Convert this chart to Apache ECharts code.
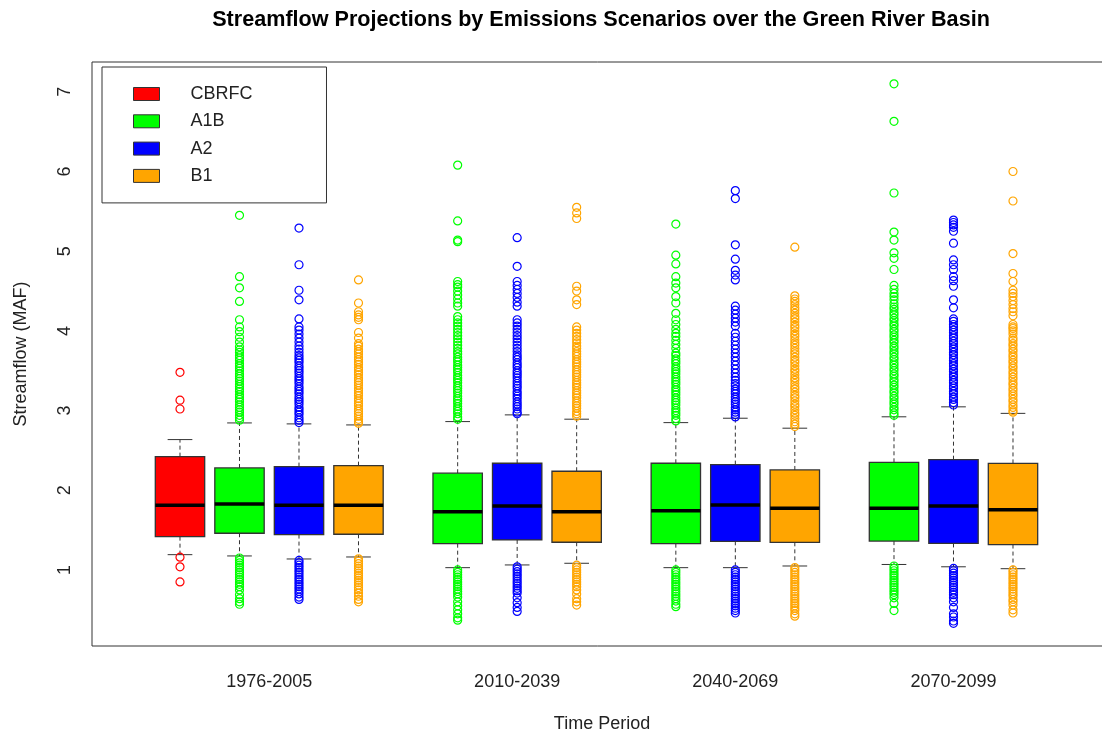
<!DOCTYPE html>
<html>
<head>
<meta charset="utf-8">
<script src="https://cdn.jsdelivr.net/npm/echarts@6/dist/echarts.min.js"></script>
<style>
html,body{margin:0;padding:0;background:#fff;}
#main{width:1102px;height:734px;}
</style>
</head>
<body>
<div id="main"></div>
<script>
// ---------------- DATA ----------------
const periods = ['1976-2005', '2010-2039', '2040-2069', '2070-2099'];
const scenarios = ['CBRFC', 'A1B', 'A2', 'B1'];
const yTicks = [1, 2, 3, 4, 5, 6, 7];

// box stats per period: [lower whisker, Q1, median, Q3, upper whisker] (null = not present)
const statsCBRFC = [[1.192, 1.418, 1.812, 2.422, 2.636], null, null, null];
const statsA1B = [
  [1.176, 1.461, 1.828, 2.280, 2.845],
  [1.029, 1.330, 1.732, 2.214, 2.862],
  [1.029, 1.330, 1.744, 2.339, 2.849],
  [1.069, 1.362, 1.774, 2.351, 2.922]
];
const statsA2 = [
  [1.138, 1.444, 1.812, 2.297, 2.833],
  [1.063, 1.377, 1.803, 2.339, 2.946],
  [1.029, 1.360, 1.816, 2.322, 2.904],
  [1.040, 1.333, 1.803, 2.384, 3.047]
];
const statsB1 = [
  [1.163, 1.448, 1.812, 2.309, 2.820],
  [1.084, 1.348, 1.732, 2.239, 2.892],
  [1.050, 1.347, 1.774, 2.255, 2.779],
  [1.016, 1.319, 1.757, 2.337, 2.965]
];

// outliers per period
const outCBRFC = [[3.48, 3.13, 3.02, 1.16, 1.04, 0.85], [], [], []];
const outA1B = [
  [5.45, 4.68, 4.54, 4.37, 4.14, 4.05, 3.99, 3.92, 3.86, 3.80,
   3.76, 3.73, 3.69, 3.66, 3.63, 3.59, 3.56, 3.53, 3.50, 3.46, 3.43, 3.40, 3.37, 3.33, 3.30, 3.27, 3.24, 3.20, 3.17, 3.14, 3.11, 3.07, 3.04, 3.01, 2.98, 2.94, 2.91, 2.88,
   1.15, 1.12, 1.09, 1.06, 1.03, 1.00, 0.97, 0.94, 0.91, 0.88, 0.85, 0.82, 0.79, 0.75, 0.69, 0.64, 0.60, 0.57],
  [6.08, 5.38, 5.14, 5.12, 4.62, 4.58, 4.55, 4.50, 4.45, 4.40, 4.35, 4.31, 4.18, 4.14, 4.10, 4.06, 4.02, 3.98, 3.94, 3.90, 3.86, 3.82, 3.78,
   3.74, 3.71, 3.67, 3.64, 3.61, 3.57, 3.54, 3.51, 3.48, 3.44, 3.41, 3.38, 3.35, 3.31, 3.28, 3.25, 3.22, 3.18, 3.15, 3.12, 3.09, 3.05, 3.02, 2.99, 2.96, 2.92, 2.89,
   1.00, 0.97, 0.94, 0.91, 0.88, 0.85, 0.82, 0.79, 0.76, 0.73, 0.70, 0.66, 0.60, 0.55, 0.50, 0.45, 0.40, 0.37],
  [5.34, 4.95, 4.84, 4.68, 4.60, 4.54, 4.43, 4.35, 4.22, 4.14, 4.08, 4.02, 3.97, 3.93, 3.88, 3.83, 3.78,
   3.72, 3.69, 3.65, 3.62, 3.59, 3.55, 3.52, 3.49, 3.46, 3.42, 3.39, 3.36, 3.33, 3.29, 3.26, 3.23, 3.20, 3.16, 3.13, 3.10, 3.07, 3.03, 3.00, 2.97, 2.94, 2.90, 2.87,
   1.00, 0.97, 0.94, 0.91, 0.88, 0.85, 0.82, 0.79, 0.76, 0.73, 0.70, 0.67, 0.64, 0.61, 0.57, 0.54],
  [7.10, 6.63, 5.73, 5.24, 5.14, 4.98, 4.91, 4.77, 4.57, 4.52, 4.47, 4.43, 4.39,
   4.34, 4.30, 4.27, 4.23, 4.20, 4.16, 4.13, 4.09, 4.06, 4.02, 3.99, 3.95, 3.92, 3.88, 3.85, 3.81, 3.78, 3.74, 3.71, 3.67, 3.64, 3.60, 3.57, 3.53, 3.50, 3.46, 3.43, 3.39, 3.36, 3.32, 3.29, 3.25, 3.22, 3.18, 3.15, 3.11, 3.08, 3.04, 3.01, 2.97, 2.94,
   1.05, 1.02, 0.99, 0.96, 0.93, 0.90, 0.87, 0.84, 0.81, 0.78, 0.75, 0.72, 0.69, 0.65, 0.58, 0.49]
];
const outA2 = [
  [5.29, 4.83, 4.51, 4.39, 4.15, 4.05, 4.01, 3.96, 3.91, 3.86, 3.81, 3.77, 3.73, 3.69,
   3.66, 3.63, 3.60, 3.56, 3.53, 3.50, 3.47, 3.43, 3.40, 3.37, 3.34, 3.30, 3.27, 3.24, 3.21, 3.17, 3.14, 3.11, 3.08, 3.04, 3.01, 2.98, 2.95, 2.91, 2.88, 2.85,
   1.12, 1.09, 1.06, 1.03, 1.00, 0.97, 0.94, 0.91, 0.88, 0.85, 0.82, 0.79, 0.76, 0.73, 0.70, 0.66, 0.63],
  [5.17, 4.81, 4.62, 4.57, 4.52, 4.47, 4.42, 4.36, 4.31, 4.14, 4.10, 4.06, 4.02, 3.98, 3.94, 3.90, 3.86, 3.82, 3.78, 3.74, 3.70,
   3.67, 3.64, 3.60, 3.57, 3.54, 3.50, 3.47, 3.44, 3.41, 3.37, 3.34, 3.31, 3.28, 3.24, 3.21, 3.18, 3.15, 3.11, 3.08, 3.05, 3.02, 2.98, 2.96,
   1.04, 1.01, 0.98, 0.95, 0.92, 0.89, 0.86, 0.83, 0.80, 0.77, 0.74, 0.71, 0.65, 0.59, 0.53, 0.48],
  [5.76, 5.66, 5.08, 4.90, 4.76, 4.70, 4.64, 4.31, 4.26, 4.21, 4.16, 4.11, 4.06,
   3.97, 3.92, 3.87, 3.82, 3.77, 3.72, 3.67, 3.62, 3.57, 3.52, 3.47, 3.42, 3.38,
   3.34, 3.31, 3.27, 3.24, 3.21, 3.17, 3.14, 3.11, 3.08, 3.04, 3.01, 2.98, 2.95, 2.92,
   1.00, 0.97, 0.94, 0.91, 0.88, 0.85, 0.82, 0.79, 0.76, 0.73, 0.70, 0.67, 0.64, 0.61, 0.58, 0.55, 0.52, 0.49, 0.46],
  [5.39, 5.36, 5.33, 5.30, 5.25, 5.10, 4.89, 4.83, 4.77, 4.68, 4.63, 4.56, 4.39, 4.29,
   4.15, 4.12, 4.08, 4.05, 4.01, 3.98, 3.94, 3.91, 3.87, 3.84, 3.80, 3.77, 3.73, 3.70, 3.66, 3.63, 3.59, 3.56, 3.52, 3.49, 3.45, 3.42, 3.38, 3.35, 3.31, 3.28, 3.24, 3.21, 3.17, 3.14, 3.10, 3.07,
   1.02, 0.99, 0.96, 0.93, 0.90, 0.87, 0.84, 0.81, 0.78, 0.75, 0.72, 0.69, 0.65, 0.60, 0.53, 0.45, 0.41, 0.36, 0.33]
];
const outB1 = [
  [4.64, 4.35, 4.24, 4.20, 4.17, 4.14, 3.98, 3.91,
   3.84, 3.81, 3.77, 3.74, 3.71, 3.67, 3.64, 3.61, 3.58, 3.54, 3.51, 3.48, 3.45, 3.41, 3.38, 3.35, 3.32, 3.28, 3.25, 3.22, 3.19, 3.15, 3.12, 3.09, 3.06, 3.02, 2.99, 2.96, 2.93, 2.89, 2.86, 2.84,
   1.14, 1.11, 1.08, 1.05, 1.02, 0.99, 0.96, 0.93, 0.90, 0.87, 0.84, 0.81, 0.78, 0.75, 0.71, 0.67, 0.63, 0.60],
  [5.55, 5.48, 5.41, 4.56, 4.50, 4.39, 4.33, 4.05, 4.01, 3.97, 3.93, 3.89, 3.85,
   3.81, 3.78, 3.74, 3.71, 3.68, 3.64, 3.61, 3.58, 3.55, 3.51, 3.48, 3.45, 3.42, 3.38, 3.35, 3.32, 3.29, 3.25, 3.22, 3.19, 3.16, 3.12, 3.09, 3.06, 3.03, 2.99, 2.96, 2.93,
   1.06, 1.03, 1.00, 0.97, 0.94, 0.91, 0.88, 0.85, 0.82, 0.79, 0.75, 0.70, 0.64, 0.60, 0.56],
  [5.05, 4.44, 4.40, 4.37, 4.33, 4.29, 4.26, 4.22, 4.18, 4.15, 4.11, 4.07, 4.04, 4.00, 3.96, 3.93, 3.89, 3.85, 3.82, 3.78, 3.74, 3.71, 3.67, 3.63, 3.60, 3.56, 3.52, 3.49, 3.45, 3.41, 3.38, 3.34, 3.30, 3.27, 3.23, 3.19, 3.16, 3.12, 3.08, 3.05, 3.01, 2.97, 2.94, 2.90, 2.86, 2.83, 2.80,
   1.03, 1.00, 0.97, 0.94, 0.91, 0.88, 0.85, 0.82, 0.79, 0.76, 0.73, 0.70, 0.67, 0.64, 0.61, 0.58, 0.55, 0.52, 0.49, 0.45, 0.42],
  [6.00, 5.63, 4.97, 4.72, 4.62, 4.51, 4.47, 4.43, 4.38, 4.33, 4.28, 4.24, 4.19, 4.08, 4.05, 4.03, 4.00, 3.96,
   3.91, 3.88, 3.84, 3.81, 3.77, 3.74, 3.70, 3.67, 3.63, 3.60, 3.56, 3.53, 3.49, 3.46, 3.42, 3.39, 3.35, 3.32, 3.28, 3.25, 3.21, 3.18, 3.14, 3.11, 3.07, 3.04, 3.00, 2.98,
   1.00, 0.97, 0.94, 0.91, 0.88, 0.85, 0.82, 0.79, 0.76, 0.73, 0.70, 0.67, 0.63, 0.60, 0.56, 0.50, 0.46]
];

// ---------------- LAYOUT / STYLE ----------------
const allStats = [statsCBRFC, statsA1B, statsA2, statsB1];
const allOut = [outCBRFC, outA1B, outA2, outB1];
const colors = ['#FF0000', '#00FF00', '#0000FF', '#FFA500'];
const FONT = 'Liberation Sans, Arial, Helvetica, sans-serif';
const GROUP_GAP = 5 / 3;   // spacing between last box of a period and first box of next
const BOX_WIDTH = 0.83;    // in x-axis units

// assign x positions to boxes
const positions = scenarios.map(() => []);
const periodCenters = [];
let cursor = 1;
periods.forEach((p, pi) => {
  const ps = [];
  scenarios.forEach((s, si) => {
    if (allStats[si][pi]) {
      positions[si][pi] = cursor;
      ps.push(cursor);
      cursor += 1;
    }
  });
  cursor += GROUP_GAP - 1;
  periodCenters.push(ps.reduce((a, b) => a + b, 0) / ps.length);
});

function renderBox(params, api) {
  const x = api.value(0);
  const lo = api.coord([x, api.value(1)]);
  const q1 = api.coord([x, api.value(2)]);
  const md = api.coord([x, api.value(3)]);
  const q3 = api.coord([x, api.value(4)]);
  const hi = api.coord([x, api.value(5)]);
  const w = api.size([BOX_WIDTH, 0])[0];
  const cx = lo[0];
  const hw = w / 2;
  const cap = w / 4;
  const color = api.visual('color');
  const dash = { stroke: '#333', lineWidth: 1, lineDash: [4, 3] };
  const solid = { stroke: '#333', lineWidth: 1 };
  return {
    type: 'group',
    children: [
      { type: 'line', shape: { x1: cx, y1: q3[1], x2: cx, y2: hi[1] }, style: dash },
      { type: 'line', shape: { x1: cx, y1: q1[1], x2: cx, y2: lo[1] }, style: dash },
      { type: 'line', shape: { x1: cx - cap, y1: hi[1], x2: cx + cap, y2: hi[1] }, style: solid },
      { type: 'line', shape: { x1: cx - cap, y1: lo[1], x2: cx + cap, y2: lo[1] }, style: solid },
      { type: 'rect', shape: { x: cx - hw, y: q3[1], width: w, height: q1[1] - q3[1] },
        style: { fill: color, stroke: '#333', lineWidth: 1.3 } },
      { type: 'line', shape: { x1: cx - hw, y1: md[1], x2: cx + hw, y2: md[1] },
        style: { stroke: '#000', lineWidth: 3.5 } }
    ]
  };
}

const series = [];
scenarios.forEach((s, si) => {
  const boxData = [];
  allStats[si].forEach((st, pi) => {
    if (st) boxData.push([positions[si][pi]].concat(st));
  });
  series.push({
    name: s,
    type: 'custom',
    renderItem: renderBox,
    itemStyle: { color: colors[si] },
    encode: { x: 0, y: [1, 2, 3, 4, 5] },
    data: boxData,
    z: 2,
    silent: true
  });
});
scenarios.forEach((s, si) => {
  const pts = [];
  allOut[si].forEach((vals, pi) => {
    vals.forEach(v => pts.push([positions[si][pi], v]));
  });
  series.push({
    name: s + ' outliers',
    type: 'scatter',
    symbol: 'circle',
    symbolSize: 8,
    itemStyle: { color: 'rgba(0,0,0,0)', borderColor: colors[si], borderWidth: 1.2, opacity: 1 },
    data: pts,
    z: 3,
    silent: true
  });
});

const chart = echarts.init(document.getElementById('main'), null, { renderer: 'canvas' });
chart.setOption({
  animation: false,
  backgroundColor: '#fff',
  title: {
    text: 'Streamflow Projections by Emissions Scenarios over the Green River Basin',
    left: 601, top: 9, padding: 0, textAlign: 'center',
    textStyle: { fontFamily: FONT, fontSize: 21.6, fontWeight: 'bold', color: '#000' }
  },
  legend: {
    data: scenarios,
    orient: 'vertical',
    left: 102, top: 67,
    icon: 'rect',
    itemWidth: 26, itemHeight: 13, itemGap: 9.3,
    padding: [18, 74, 18, 31],
    borderColor: '#333', borderWidth: 1,
    selectedMode: false,
    itemStyle: { borderColor: '#333', borderWidth: 1 },
    textStyle: { fontFamily: FONT, fontSize: 18, color: '#222', lineHeight: 18, padding: [0, 0, 0, 26] }
  },
  grid: {
    left: 92, top: 62, width: 1020, height: 584,
    outerBoundsMode: 'none',
    containLabel: false,
    show: true, borderColor: '#333', borderWidth: 1, backgroundColor: 'transparent'
  },
  xAxis: {
    type: 'value',
    min: -0.479, max: 16.664,
    name: 'Time Period', nameLocation: 'middle', nameGap: 69,
    nameTextStyle: { fontFamily: FONT, fontSize: 18, color: '#222' },
    axisLine: { show: false },
    axisTick: { show: false },
    splitLine: { show: false },
    axisLabel: {
      customValues: periodCenters,
      margin: 27,
      fontFamily: FONT, fontSize: 18, color: '#222',
      formatter: function (v) {
        let best = 0, bd = Infinity;
        periodCenters.forEach((c, i) => { const d = Math.abs(c - v); if (d < bd) { bd = d; best = i; } });
        return periods[best];
      }
    }
  },
  yAxis: {
    type: 'value',
    min: 0.046, max: 7.374,
    name: 'Streamflow (MAF)', nameLocation: 'middle', nameGap: 62,
    nameTextStyle: { fontFamily: FONT, fontSize: 18, color: '#222' },
    axisLine: { show: false },
    axisTick: { show: false },
    splitLine: { show: false },
    axisLabel: {
      customValues: yTicks,
      rotate: 90,
      margin: 18,
      fontFamily: FONT, fontSize: 18, color: '#222'
    }
  },
  series: series
});
</script>
</body>
</html>
